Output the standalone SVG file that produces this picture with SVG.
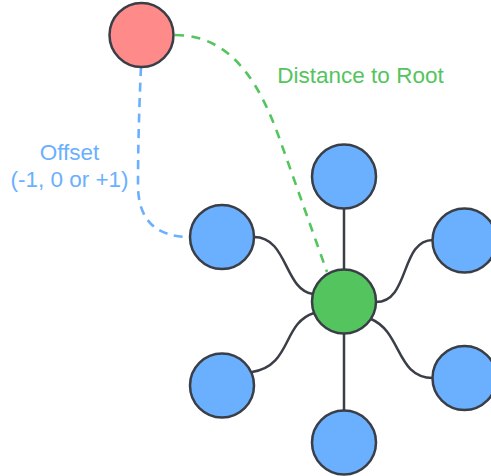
<svg xmlns="http://www.w3.org/2000/svg" width="491" height="476" viewBox="0 0 491 476">
  <style>
    .node { stroke: #3a3e46; stroke-width: 2.5; }
    .root { fill: #ff8a8a; }
    .leaf { fill: #6ab0ff; }
    .hub { fill: #54c45e; }
    .edge { fill: none; stroke: #3a3e46; stroke-width: 2.5; }
    .dist { fill: none; stroke: #54c45e; stroke-width: 2.6; stroke-dasharray: 9 7.5; }
    .off { fill: none; stroke: #6ab0ff; stroke-width: 2.6; stroke-dasharray: 9 6.5; }
    .label { font-family: "Liberation Sans", Arial, sans-serif; font-size: 22.5px; }
  </style>
  <rect width="491" height="476" fill="#ffffff"/>

  <g id="connectors">
    <path class="edge" d="M344,208 L344,270"/>
    <path class="edge" d="M344,333 L344,411"/>
    <path class="edge" d="M254,237 C288,237 284,290 313,294"/>
    <path class="edge" d="M376,302 C410,302 400,240 433,240"/>
    <path class="edge" d="M314,313 C282,323 292,366 252,372"/>
    <path class="edge" d="M371,319 C402,332 396,378 433,378"/>
    <path class="dist" d="M175,35 C235,35 262,90 280,140 L327,272"/>
    <path class="off" d="M141,67 C139,110 138,150 138,185 C138,222 158,237 190,237"/>
  </g>

  <g id="root"><circle class="node root" cx="141.5" cy="35" r="32"/></g>
  <g id="hub"><circle class="node hub" cx="344" cy="301.5" r="32"/></g>
  <g id="leaf-top"><circle class="node leaf" cx="344" cy="176.5" r="32"/></g>
  <g id="leaf-left"><circle class="node leaf" cx="222" cy="237" r="32"/></g>
  <g id="leaf-right"><circle class="node leaf" cx="464.5" cy="240.5" r="32"/></g>
  <g id="leaf-bottom-left"><circle class="node leaf" cx="222" cy="385.5" r="32"/></g>
  <g id="leaf-bottom-right"><circle class="node leaf" cx="464.5" cy="378" r="32"/></g>
  <g id="leaf-bottom"><circle class="node leaf" cx="344" cy="442.5" r="32"/></g>

  <g id="labels">
    <text class="label" x="360.5" y="82.5" text-anchor="middle" fill="#54c45e">Distance to Root</text>
    <text class="label" x="69.5" y="160" text-anchor="middle" fill="#6ab0ff">Offset</text>
    <text class="label" x="69.5" y="187" text-anchor="middle" fill="#6ab0ff">(-1, 0 or +1)</text>
  </g>
</svg>
